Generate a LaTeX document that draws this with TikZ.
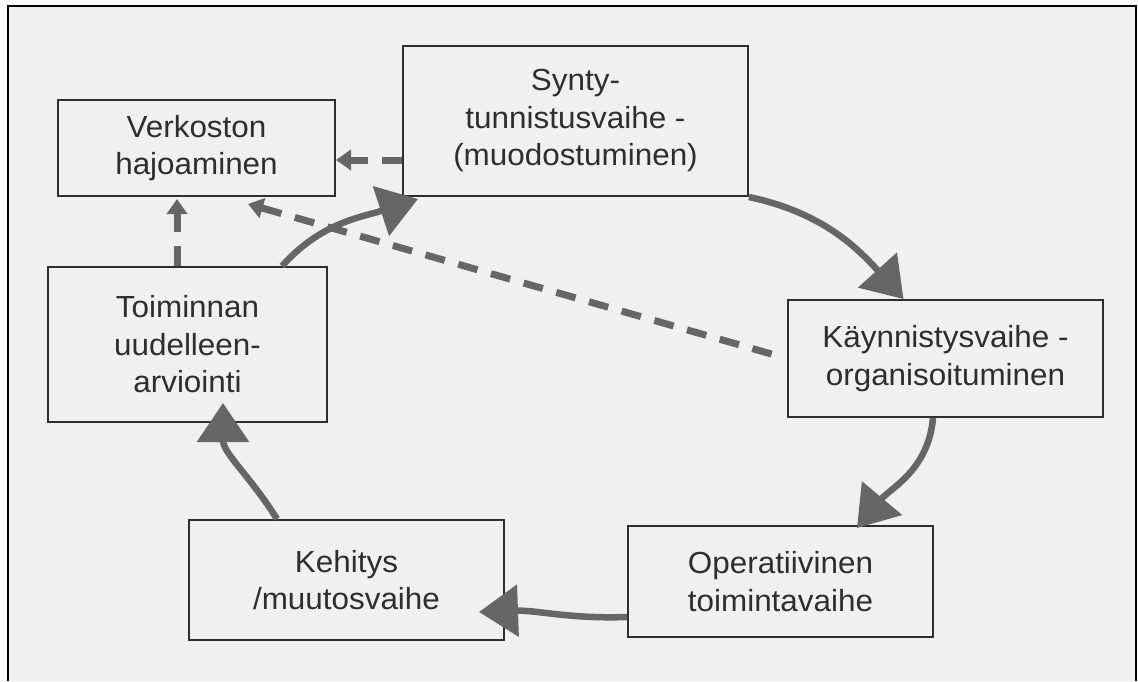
\documentclass[tikz,border=0pt]{standalone}
\usepackage{fontspec}
\setmainfont[FakeStretch=1.03]{Liberation Sans}
\usetikzlibrary{arrows.meta}
\definecolor{ink}{HTML}{2E2E2E}
\definecolor{arr}{HTML}{666666}
\definecolor{paper}{HTML}{F0F0F0}
\begin{document}
\begin{tikzpicture}[x=1pt,y=1pt,
  box/.style={draw=ink, line width=2pt, text=ink, align=center, inner sep=0pt,
    font=\fontsize{30.5}{37.5}\selectfont},
  flow/.style={draw=arr, line width=6.5pt, -{Triangle[length=39pt,width=51pt]}},
  dflow/.style={draw=arr, line width=7pt, dash pattern=on 20pt off 14pt,
    -{Triangle[length=15pt,width=20pt]}}]
\useasboundingbox (0,0) rectangle (1138,-681);
\fill[white] (0,0) rectangle (1138,-681);
\fill[paper] (8,-6) rectangle (1136,-681);
\draw[black, line width=2.5pt] (8,-681) -- (8,-6) -- (1136,-6) -- (1136,-681);

\node[box, minimum width=277pt, minimum height=96pt] (verk) at (196.5,-148) {Verkoston\\hajoaminen};
\node[box, minimum width=345pt, minimum height=150pt] (synty) at (575.5,-121) {Synty-\\tunnistusvaihe -\\(muodostuminen)};
\node[box, minimum width=279pt, minimum height=155pt] (toim) at (187.5,-344.5) {Toiminnan\\uudelleen-\\arviointi};
\node[box, minimum width=315pt, minimum height=117pt] (kaynn) at (945.5,-358.5) {Käynnistysvaihe -\\organisoituminen};
\node[box, minimum width=305pt, minimum height=111pt] (oper) at (780.5,-581.5) {Operatiivinen\\toimintavaihe};
\node[box, minimum width=315pt, minimum height=120pt] (kehi) at (346.5,-580) {Kehitys\\/muutosvaihe};

\draw[flow] (synty.south east) to[out=-12,in=132] ([xshift=-42pt]kaynn.north);
\draw[flow] ([xshift=-12.5pt]kaynn.south) to[out=-95,in=50] ([xshift=76.5pt,yshift=-3pt]oper.north);
\draw[flow] ([yshift=-35.5pt]oper.west) to[out=182,in=2] ([xshift=-26pt,yshift=-32pt]kehi.east);
\draw[flow] ([xshift=-69.5pt]kehi.north) to[out=122,in=-90] ([xshift=35.5pt,yshift=20pt]toim.south);
\draw[flow] ([xshift=94.5pt]toim.north) to[out=48,in=198] ([xshift=-157.5pt,yshift=-2pt]synty.south);

\draw[dflow] ([yshift=-39pt]synty.west) -- ([yshift=-12pt]verk.east);
\draw[dflow, shorten <=16pt] (kaynn.west) -- ([xshift=51.5pt,yshift=-7pt]verk.south);
\draw[dflow] ([xshift=-10.5pt]toim.north) -- ([xshift=-19.5pt,yshift=-2pt]verk.south);
\end{tikzpicture}
\end{document}
